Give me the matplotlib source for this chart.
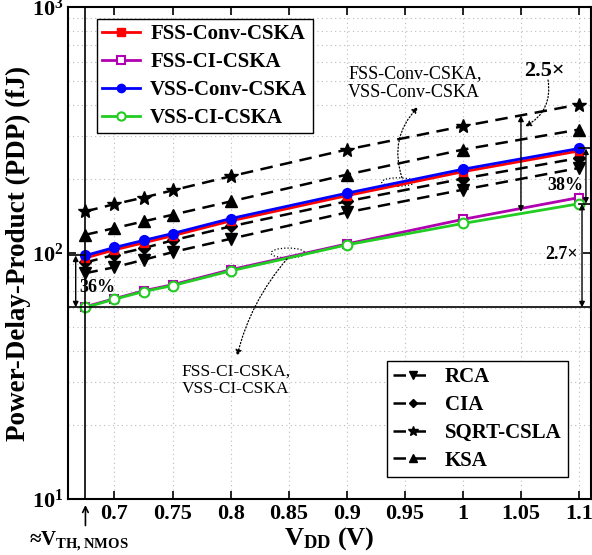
import matplotlib.pyplot as plt
from matplotlib.patches import Ellipse
import numpy as np

plt.rcParams['font.family'] = ['Liberation Serif', 'DejaVu Serif']
plt.rcParams['mathtext.fontset'] = 'custom'
plt.rcParams['mathtext.rm'] = 'Liberation Serif'
plt.rcParams['mathtext.bf'] = 'Liberation Serif:bold'

# supply voltages (V)
vdd = [0.675, 0.7, 0.725, 0.75, 0.8, 0.9, 1.0, 1.1]

# PDP (fJ)
fss_conv = [95.5, 103.0, 110.0, 117.5, 135.0, 171.0, 214.0, 260.0]
fss_ci = [60.5, 65.2, 70.2, 74.3, 85.5, 108.8, 137.0, 168.0]
vss_conv = [97.7, 105.3, 112.5, 120.0, 138.0, 175.0, 219.0, 266.0]
vss_ci = [60.1, 64.9, 69.7, 73.7, 84.6, 107.9, 131.8, 158.6]

rca = [82.8, 87.5, 93.8, 100.8, 114.2, 146.2, 180.8, 221.6]
cia = [91.5, 98.3, 104.6, 112.5, 128.2, 162.1, 200.5, 243.3]
sqrt_csla = [147.6, 158.0, 168.0, 179.7, 205.0, 263.2, 327.6, 401.4]
ksa = [118.6, 126.2, 134.4, 143.0, 162.0, 208.2, 263.2, 317.5]

xticks = [0.7, 0.75, 0.8, 0.85, 0.9, 0.95, 1.0, 1.05, 1.1]
xticklabels = ['0.7', '0.75', '0.8', '0.85', '0.9', '0.95', '1', '1.05', '1.1']
yticks = [10, 100, 1000]
yticklabels = [r'$\mathbf{10^{1}}$', r'$\mathbf{10^{2}}$', r'$\mathbf{10^{3}}$']

fig = plt.figure(figsize=(5.92, 5.55), dpi=100)
ax = fig.add_axes([0.1149, 0.1009, 0.8828, 0.8865])

dash = (0, (5, 3))
l_rca, = ax.plot(vdd, rca, color='black', ls=dash, lw=1.8, marker='v', ms=8)
l_cia, = ax.plot(vdd, cia, color='black', ls=dash, lw=1.8, marker='D', ms=6)
l_sq, = ax.plot(vdd, sqrt_csla, color='black', ls=dash, lw=1.8, marker='*', ms=10)
l_ksa, = ax.plot(vdd, ksa, color='black', ls=dash, lw=1.8, marker='^', ms=8)

l1, = ax.plot(vdd, fss_conv, color='red', lw=2, marker='s', ms=6)
l2, = ax.plot(vdd, fss_ci, color='#b000b0', lw=2, marker='s', ms=6, mfc='white', mew=1.5)
l3, = ax.plot(vdd, vss_conv, color='blue', lw=2, marker='o', ms=7)
l4, = ax.plot(vdd, vss_ci, color='#22cc22', lw=2, marker='o', ms=7, mfc='white', mew=1.5)

ax.set_yscale('log')
ax.set_ylim(10, 1000)
ax.set_xlim(0.66, 1.11)
ax.set_xticks(xticks)
ax.set_xticklabels(xticklabels)
ax.set_yticks(yticks)
ax.set_yticklabels(yticklabels)
ax.tick_params(which='both', direction='in', top=True, right=True, labelsize=16)
ax.tick_params(which='major', length=6, width=1.2)
ax.tick_params(which='minor', length=0)
for lab in ax.get_xticklabels():
    lab.set_fontweight('bold')
for s in ax.spines.values():
    s.set_linewidth(1.5)
ax.grid(True, which='both', color='#bbbbbb', ls=(0, (1, 3)), lw=0.8)

ax.set_ylabel('Power-Delay-Product (PDP) (fJ)', fontsize=19.5, fontweight='bold')
ax.yaxis.set_label_coords(-0.071, 0.5)
ax.set_xlabel(r'$\mathbf{V_{DD}}$ (V)', fontsize=19, fontweight='bold', labelpad=1)

leg1 = ax.legend([l1, l2, l3, l4], ['FSS-Conv-CSKA', 'FSS-CI-CSKA', 'VSS-Conv-CSKA', 'VSS-CI-CSKA'],
                 loc='upper left', bbox_to_anchor=(0.0555, 0.9756), fancybox=False, edgecolor='black',
                 framealpha=1, prop={'weight': 'bold', 'size': 15}, handlelength=1.8,
                 borderpad=0.25, labelspacing=0.38, handletextpad=0.5, borderaxespad=0,
                 markerscale=0.85)
leg1.get_frame().set_linewidth(1.0)
ax.add_artist(leg1)
leg2 = ax.legend([l_rca, l_cia, l_sq, l_ksa], ['RCA', 'CIA', 'SQRT-CSLA', 'KSA'],
                 loc='lower right', bbox_to_anchor=(0.9568, 0.0447), fancybox=False, edgecolor='black',
                 framealpha=1, prop={'weight': 'bold', 'size': 15}, handlelength=1.9,
                 borderpad=0.3, labelspacing=0.38, handletextpad=0.6, borderaxespad=0,
                 markerscale=0.7)
leg2.get_frame().set_linewidth(1.0)

# reference lines
ax.axvline(vdd[0], color='black', lw=1.2)
ax.axhline(vss_ci[0], color='black', lw=1.2)
ax.plot([0.66, vdd[0]], [vss_conv[0], vss_conv[0]], color='black', lw=1.2)
ax.plot([vdd[-1], 1.11], [vss_conv[-1], vss_conv[-1]], color='black', lw=1.2)
ax.plot([vdd[-1], 1.11], [vss_ci[-1], vss_ci[-1]], color='black', lw=1.2)

blend = ax.get_yaxis_transform()  # x in axes fraction, y in data
arr = dict(arrowstyle='<|-|>', color='black', lw=1, mutation_scale=8, shrinkA=0, shrinkB=0)
ax.annotate('', xy=(0.0147, vss_conv[0]), xytext=(0.0147, vss_ci[0]), xycoords=blend, arrowprops=arr)
ax.text(0.021, 0.4289, '36%', transform=ax.transAxes, fontsize=13, fontweight='bold',
        ha='left', va='center')
ax.annotate('', xy=(0.991, vss_conv[-1]), xytext=(0.991, vss_ci[-1]), xycoords=blend, arrowprops=arr)
ax.text(0.9855, 0.638, '38%', transform=ax.transAxes, fontsize=13, fontweight='bold',
        ha='right', va='center')
ax.annotate('', xy=(0.9835, vss_ci[-1]), xytext=(0.9835, vss_ci[0]), xycoords=blend, arrowprops=arr)
ax.text(0.976, 0.496, '2.7×', transform=ax.transAxes, fontsize=13, fontweight='bold',
        ha='right', va='center')
ax.annotate('', xy=(1.05, 362), xytext=(1.05, 147), arrowprops=arr)

dotted = dict(arrowstyle='-|>', ls=':', lw=0.9, color='black', mutation_scale=9, shrinkA=0, shrinkB=0)

# 2.5x callout
ax.text(0.911, 0.870, '2.5×', transform=ax.transAxes, fontsize=16, fontweight='bold',
        ha='center', va='center')
ax.annotate('', xy=(0.8745, 0.7573), xytext=(0.9185, 0.8516), xycoords='axes fraction',
            arrowprops=dict(dotted, connectionstyle='arc3,rad=-0.35'))

# conventional CSKA group callout
ax.add_patch(Ellipse((0.6315, 0.6443), 0.063, 0.017, transform=ax.transAxes,
                     fill=False, ls=':', lw=0.9, color='black'))
ax.annotate('', xy=(0.6697, 0.7967), xytext=(0.639, 0.653), xycoords='axes fraction',
            arrowprops=dict(dotted, connectionstyle='arc3,rad=-0.3'))
ax.text(0.5358, 0.8455, 'FSS-Conv-CSKA,\nVSS-Conv-CSKA', transform=ax.transAxes, fontsize=13,
        ha='left', va='center', linespacing=1.1)

# CI CSKA group callout
ax.add_patch(Ellipse((0.421, 0.50), 0.065, 0.02, transform=ax.transAxes,
                     fill=False, ls=':', lw=0.9, color='black'))
ax.annotate('', xy=(0.3234, 0.2907), xytext=(0.419, 0.4878), xycoords='axes fraction',
            arrowprops=dict(dotted, connectionstyle='arc3,rad=0.12'))
ax.text(0.218, 0.2419, 'FSS-CI-CSKA,\nVSS-CI-CSKA', transform=ax.transAxes, fontsize=12.5,
        ha='left', va='center', linespacing=1.1)

# threshold voltage marker below the axis
ax.annotate('', xy=(vdd[0], 9.7), xytext=(vdd[0], 7.6), annotation_clip=False,
            arrowprops=dict(arrowstyle='->', color='black', lw=1.2))
ax.text(0.669, 6.75, r'≈$\mathbf{V_{TH,NMOS}}$', fontsize=15, fontweight='bold',
        ha='center', va='center', clip_on=False)

fig.savefig('out.png', dpi=100)
